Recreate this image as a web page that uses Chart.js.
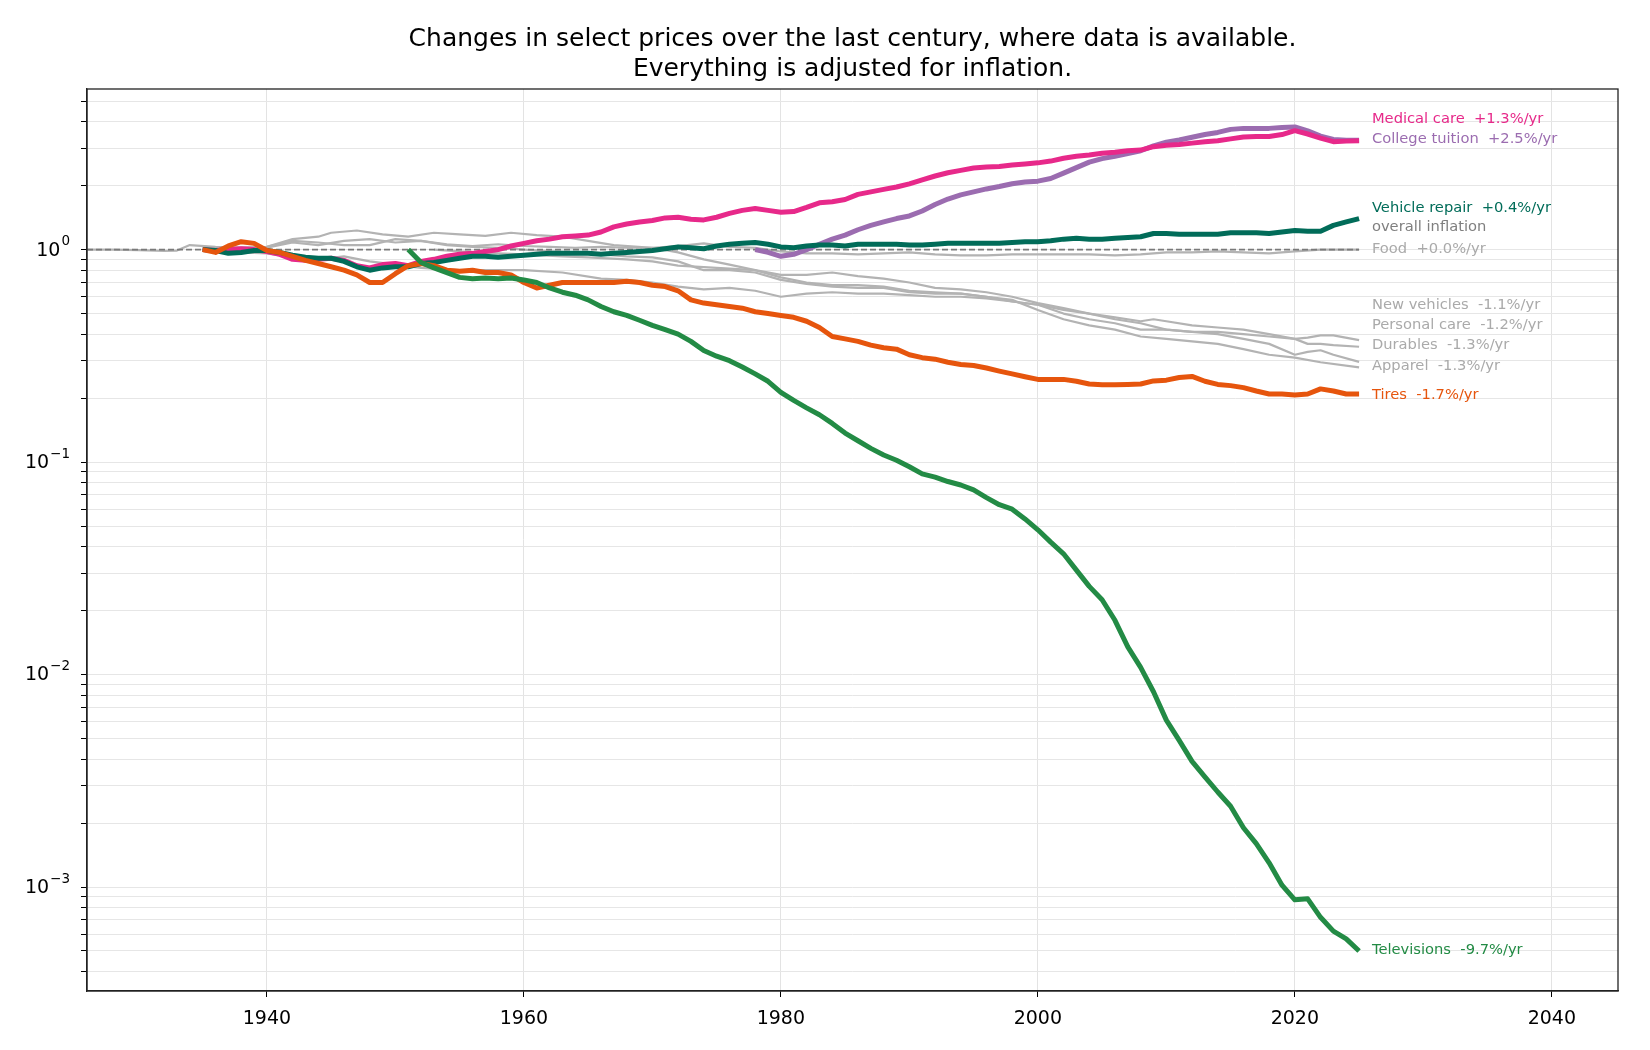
<!DOCTYPE html>
<html>
<head>
<meta charset="utf-8">
<script src="https://cdn.jsdelivr.net/npm/chart.js@4.4.1/dist/chart.umd.min.js"></script>
<style>
  html, body { margin: 0; padding: 0; background: #fff; }
  #wrap { width: 1650px; height: 1050px; }
</style>
</head>
<body>
<div id="wrap"><canvas id="pricesChart" width="1650" height="1050"></canvas></div>
<script>
// Title lines
const titleLines = ['Changes in select prices over the last century, where data is available.',
                    'Everything is adjusted for inflation.'];

// Series, [year, price relative to overall inflation]
const medicalCare = [[1935,1.00],[1936,0.99],[1937,1.00],[1938,1.01],[1939,1.00],[1940,0.98],[1941,0.95],[1942,0.90],[1943,0.89],[1944,0.90],[1945,0.91],[1946,0.89],[1947,0.84],[1948,0.82],[1949,0.85],[1950,0.86],[1951,0.84],[1952,0.88],[1953,0.90],[1954,0.93],[1955,0.95],[1956,0.96],[1957,0.98],[1958,1.00],[1959,1.04],[1960,1.07],[1961,1.10],[1962,1.12],[1963,1.15],[1964,1.16],[1965,1.17],[1966,1.21],[1967,1.28],[1968,1.32],[1969,1.35],[1970,1.37],[1971,1.41],[1972,1.42],[1973,1.39],[1974,1.38],[1975,1.42],[1976,1.48],[1977,1.53],[1978,1.56],[1979,1.53],[1980,1.50],[1981,1.51],[1982,1.58],[1983,1.66],[1984,1.68],[1985,1.72],[1986,1.82],[1987,1.87],[1988,1.92],[1989,1.97],[1990,2.04],[1991,2.13],[1992,2.22],[1993,2.30],[1994,2.36],[1995,2.42],[1996,2.45],[1997,2.46],[1998,2.50],[1999,2.53],[2000,2.56],[2001,2.61],[2002,2.69],[2003,2.75],[2004,2.79],[2005,2.84],[2006,2.87],[2007,2.92],[2008,2.94],[2009,3.05],[2010,3.10],[2011,3.12],[2012,3.17],[2013,3.22],[2014,3.25],[2015,3.32],[2016,3.39],[2017,3.41],[2018,3.41],[2019,3.48],[2020,3.63],[2021,3.50],[2022,3.35],[2023,3.22],[2024,3.24],[2025,3.25]];

const collegeTuition = [[1978,1.00],[1979,0.97],[1980,0.93],[1981,0.95],[1982,1.00],[1983,1.06],[1984,1.12],[1985,1.17],[1986,1.24],[1987,1.30],[1988,1.35],[1989,1.40],[1990,1.44],[1991,1.52],[1992,1.63],[1993,1.73],[1994,1.81],[1995,1.87],[1996,1.93],[1997,1.98],[1998,2.04],[1999,2.08],[2000,2.10],[2001,2.16],[2002,2.29],[2003,2.43],[2004,2.58],[2005,2.68],[2006,2.75],[2007,2.83],[2008,2.92],[2009,3.08],[2010,3.20],[2011,3.28],[2012,3.38],[2013,3.48],[2014,3.56],[2015,3.68],[2016,3.72],[2017,3.72],[2018,3.72],[2019,3.76],[2020,3.78],[2021,3.62],[2022,3.42],[2023,3.30],[2024,3.27],[2025,3.27]];

const vehicleRepair = [[1935,1.00],[1936,0.99],[1937,0.96],[1938,0.97],[1939,0.99],[1940,0.99],[1941,0.97],[1942,0.94],[1943,0.92],[1944,0.91],[1945,0.91],[1946,0.88],[1947,0.83],[1948,0.80],[1949,0.82],[1950,0.83],[1951,0.83],[1952,0.86],[1953,0.87],[1954,0.89],[1955,0.91],[1956,0.93],[1957,0.93],[1958,0.92],[1959,0.93],[1960,0.94],[1961,0.95],[1962,0.96],[1963,0.96],[1964,0.96],[1965,0.96],[1966,0.95],[1967,0.96],[1968,0.97],[1969,0.98],[1970,0.99],[1971,1.01],[1972,1.03],[1973,1.02],[1974,1.01],[1975,1.04],[1976,1.06],[1977,1.07],[1978,1.08],[1979,1.06],[1980,1.03],[1981,1.02],[1982,1.04],[1983,1.05],[1984,1.05],[1985,1.04],[1986,1.06],[1987,1.06],[1988,1.06],[1989,1.06],[1990,1.05],[1991,1.05],[1992,1.06],[1993,1.07],[1994,1.07],[1995,1.07],[1996,1.07],[1997,1.07],[1998,1.08],[1999,1.09],[2000,1.09],[2001,1.10],[2002,1.12],[2003,1.13],[2004,1.12],[2005,1.12],[2006,1.13],[2007,1.14],[2008,1.15],[2009,1.19],[2010,1.19],[2011,1.18],[2012,1.18],[2013,1.18],[2014,1.18],[2015,1.20],[2016,1.20],[2017,1.20],[2018,1.19],[2019,1.21],[2020,1.23],[2021,1.22],[2022,1.22],[2023,1.30],[2024,1.35],[2025,1.40]];

const tires = [[1935,1.00],[1936,0.97],[1937,1.04],[1938,1.09],[1939,1.07],[1940,0.99],[1941,0.97],[1942,0.93],[1943,0.89],[1944,0.86],[1945,0.83],[1946,0.80],[1947,0.76],[1948,0.70],[1949,0.70],[1950,0.77],[1951,0.84],[1952,0.86],[1953,0.84],[1954,0.80],[1955,0.79],[1956,0.80],[1957,0.78],[1958,0.78],[1959,0.76],[1960,0.70],[1961,0.66],[1962,0.68],[1963,0.70],[1964,0.70],[1965,0.70],[1966,0.70],[1967,0.70],[1968,0.71],[1969,0.70],[1970,0.68],[1971,0.67],[1972,0.64],[1973,0.58],[1974,0.56],[1975,0.55],[1976,0.54],[1977,0.53],[1978,0.51],[1979,0.50],[1980,0.49],[1981,0.48],[1982,0.46],[1983,0.43],[1984,0.39],[1985,0.38],[1986,0.37],[1987,0.355],[1988,0.345],[1989,0.34],[1990,0.32],[1991,0.31],[1992,0.305],[1993,0.295],[1994,0.288],[1995,0.285],[1996,0.277],[1997,0.268],[1998,0.26],[1999,0.252],[2000,0.245],[2001,0.245],[2002,0.245],[2003,0.24],[2004,0.233],[2005,0.231],[2006,0.231],[2007,0.232],[2008,0.233],[2009,0.241],[2010,0.243],[2011,0.25],[2012,0.253],[2013,0.24],[2014,0.232],[2015,0.229],[2016,0.224],[2017,0.216],[2018,0.209],[2019,0.209],[2020,0.207],[2021,0.209],[2022,0.221],[2023,0.216],[2024,0.209],[2025,0.209]];

const televisions = [[1951,1.00],[1952,0.87],[1953,0.82],[1954,0.78],[1955,0.74],[1956,0.73],[1957,0.735],[1958,0.73],[1959,0.735],[1960,0.72],[1961,0.70],[1962,0.66],[1963,0.63],[1964,0.61],[1965,0.58],[1966,0.54],[1967,0.51],[1968,0.49],[1969,0.465],[1970,0.44],[1971,0.42],[1972,0.40],[1973,0.37],[1974,0.335],[1975,0.315],[1976,0.30],[1977,0.28],[1978,0.26],[1979,0.24],[1980,0.213],[1981,0.195],[1982,0.18],[1983,0.167],[1984,0.152],[1985,0.137],[1986,0.126],[1987,0.116],[1988,0.108],[1989,0.102],[1990,0.095],[1991,0.088],[1992,0.085],[1993,0.081],[1994,0.078],[1995,0.074],[1996,0.068],[1997,0.063],[1998,0.060],[1999,0.054],[2000,0.048],[2001,0.042],[2002,0.037],[2003,0.031],[2004,0.026],[2005,0.0225],[2006,0.018],[2007,0.0135],[2008,0.0108],[2009,0.0083],[2010,0.0061],[2011,0.0049],[2012,0.0039],[2013,0.0033],[2014,0.0028],[2015,0.0024],[2016,0.0019],[2017,0.0016],[2018,0.0013],[2019,0.00102],[2020,0.00087],[2021,0.00088],[2022,0.00072],[2023,0.00062],[2024,0.00057],[2025,0.00050]];

const food = [[1926,1.00],[1928,1.00],[1930,0.995],[1932,0.985],[1933,0.99],[1934,1.05],[1936,1.03],[1938,1.02],[1940,1.02],[1942,1.08],[1944,1.05],[1946,1.10],[1948,1.12],[1950,1.08],[1952,1.10],[1954,1.06],[1956,1.04],[1958,1.06],[1960,1.04],[1962,1.03],[1964,1.02],[1966,1.03],[1968,1.02],[1970,1.02],[1972,1.04],[1974,1.07],[1976,1.03],[1978,1.02],[1980,0.98],[1982,0.96],[1984,0.96],[1986,0.95],[1988,0.96],[1990,0.97],[1992,0.95],[1994,0.94],[1996,0.94],[1998,0.95],[2000,0.95],[2002,0.95],[2004,0.95],[2006,0.94],[2008,0.95],[2010,0.97],[2012,0.97],[2014,0.98],[2016,0.97],[2018,0.96],[2020,0.98],[2022,1.00],[2024,1.00],[2025,1.00]];

const newVehicles = [[1953,1.00],[1955,0.98],[1958,0.96],[1960,0.95],[1963,0.93],[1965,0.92],[1968,0.90],[1970,0.88],[1972,0.84],[1975,0.82],[1978,0.80],[1980,0.76],[1982,0.76],[1984,0.78],[1986,0.75],[1988,0.73],[1990,0.70],[1992,0.66],[1994,0.65],[1996,0.63],[1998,0.60],[2000,0.56],[2002,0.53],[2004,0.50],[2006,0.48],[2008,0.46],[2009,0.47],[2010,0.46],[2012,0.44],[2014,0.43],[2016,0.42],[2018,0.40],[2020,0.38],[2021,0.385],[2022,0.395],[2023,0.395],[2025,0.375]];

const personalCare = [[1935,1.00],[1938,0.97],[1940,0.96],[1942,0.92],[1944,0.90],[1946,0.93],[1948,0.88],[1950,0.85],[1952,0.82],[1955,0.80],[1958,0.80],[1960,0.80],[1963,0.78],[1966,0.73],[1968,0.72],[1970,0.70],[1972,0.67],[1974,0.65],[1976,0.66],[1978,0.64],[1980,0.60],[1982,0.62],[1984,0.63],[1986,0.62],[1988,0.62],[1990,0.61],[1992,0.60],[1994,0.60],[1996,0.59],[1998,0.57],[2000,0.55],[2002,0.50],[2004,0.47],[2006,0.45],[2008,0.42],[2010,0.42],[2012,0.41],[2014,0.41],[2016,0.40],[2018,0.39],[2020,0.38],[2021,0.36],[2022,0.36],[2023,0.355],[2025,0.349]];

const durables = [[1935,1.00],[1938,1.00],[1940,1.03],[1942,1.10],[1944,1.08],[1946,1.05],[1948,1.05],[1950,1.12],[1952,1.10],[1954,1.05],[1956,1.03],[1958,1.02],[1960,1.00],[1962,0.98],[1964,0.97],[1966,0.95],[1968,0.93],[1970,0.92],[1972,0.88],[1974,0.80],[1976,0.80],[1978,0.78],[1980,0.72],[1982,0.69],[1984,0.67],[1986,0.66],[1988,0.66],[1990,0.63],[1992,0.62],[1994,0.62],[1996,0.60],[1998,0.57],[2000,0.55],[2002,0.52],[2004,0.50],[2006,0.47],[2008,0.45],[2010,0.42],[2012,0.41],[2014,0.40],[2016,0.38],[2018,0.36],[2020,0.32],[2021,0.33],[2022,0.336],[2023,0.32],[2025,0.296]];

const apparel = [[1935,1.00],[1937,1.02],[1940,1.03],[1942,1.12],[1944,1.15],[1945,1.20],[1947,1.23],[1949,1.18],[1951,1.15],[1953,1.20],[1955,1.18],[1957,1.16],[1959,1.20],[1961,1.17],[1963,1.15],[1965,1.10],[1967,1.05],[1970,1.02],[1972,0.97],[1974,0.90],[1976,0.85],[1978,0.80],[1980,0.74],[1982,0.70],[1984,0.68],[1986,0.68],[1988,0.67],[1990,0.64],[1992,0.63],[1994,0.62],[1996,0.60],[1998,0.58],[2000,0.52],[2002,0.47],[2004,0.44],[2006,0.42],[2008,0.39],[2010,0.38],[2012,0.37],[2014,0.36],[2016,0.34],[2018,0.32],[2020,0.31],[2022,0.295],[2025,0.279]];

const overallInflation = [[1926,1],[2025,1]];

// Right-hand labels
const labelTexts = ['Medical care  +1.3%/yr', 'College tuition  +2.5%/yr', 'Vehicle repair  +0.4%/yr',
                    'overall inflation', 'Food  +0.0%/yr', 'New vehicles  -1.1%/yr', 'Personal care  -1.2%/yr',
                    'Durables  -1.3%/yr', 'Apparel  -1.3%/yr', 'Tires  -1.7%/yr', 'Televisions  -9.7%/yr'];
const labelValues = [4.11, 3.31, 1.56, 1.27, 1.0, 0.547, 0.44, 0.355, 0.282, 0.207, 0.000505];
const labelColors = ['#e7298a', '#9b6cb0', '#016c59', '#7f7f7f', '#aaaaaa', '#aaaaaa', '#aaaaaa',
                     '#aaaaaa', '#aaaaaa', '#e6550d', '#238b45'];
const labelYear = 2026;

const xTicks = [1940, 1960, 1980, 2000, 2020, 2040];
const yDecades = [-3, -2, -1, 0];

const FONT = "'DejaVu Sans', sans-serif";

function toPoints(series) {
    return series.map(p => ({ x: p[0], y: p[1] }));
}

function grayLine(series) {
    return { data: toPoints(series), borderColor: '#b3b3b3', borderWidth: 2.2, order: 5 };
}

function boldLine(series, color, order) {
    return { data: toPoints(series), borderColor: color, borderWidth: 5, order: order };
}

// Frame, title, power-of-ten labels and end labels
const decorations = {
    id: 'decorations',
    afterDatasetsDraw(chart) {
        const ctx = chart.ctx;
        const { x, y } = chart.scales;
        ctx.save();
        ctx.font = '14.7px ' + FONT;
        ctx.textAlign = 'left';
        ctx.textBaseline = 'middle';
        labelTexts.forEach((t, i) => {
            ctx.fillStyle = labelColors[i];
            ctx.fillText(t, x.getPixelForValue(labelYear), y.getPixelForValue(labelValues[i]));
        });
        ctx.restore();
    },
    afterDraw(chart) {
        const ctx = chart.ctx;
        const a = chart.chartArea;
        const yScale = chart.scales.y;
        ctx.save();
        ctx.strokeStyle = '#222';
        ctx.lineWidth = 1.3;
        ctx.strokeRect(a.left, a.top, a.right - a.left, a.bottom - a.top);

        ctx.fillStyle = '#000';
        ctx.font = '25px ' + FONT;
        ctx.textAlign = 'center';
        ctx.textBaseline = 'middle';
        const cx = (a.left + a.right) / 2;
        ctx.fillText(titleLines[0], cx, 39);
        ctx.fillText(titleLines[1], cx, 69);

        // y labels as 10 with a raised exponent
        const right = a.left - 17;
        yDecades.forEach(k => {
            const py = yScale.getPixelForValue(Math.pow(10, k));
            const expText = k < 0 ? '\u2212' + (-k) : String(k);
            ctx.textAlign = 'right';
            ctx.textBaseline = 'middle';
            ctx.font = '13.5px ' + FONT;
            const ew = ctx.measureText(expText).width;
            ctx.fillText(expText, right, py - 8);
            ctx.font = '19px ' + FONT;
            ctx.fillText('10', right - ew - 1, py + 1);
        });
        ctx.restore();
    }
};

new Chart(document.getElementById('pricesChart').getContext('2d'), {
    type: 'line',
    data: {
        datasets: [
            grayLine(food), grayLine(newVehicles), grayLine(personalCare), grayLine(durables), grayLine(apparel),
            { data: toPoints(overallInflation), borderColor: '#7a7a7a', borderWidth: 1.6, borderDash: [6, 3], order: 4 },
            boldLine(collegeTuition, '#9b6cb0', 3),
            boldLine(medicalCare, '#e7298a', 2.5),
            boldLine(vehicleRepair, '#016c59', 2),
            boldLine(tires, '#e6550d', 1),
            boldLine(televisions, '#238b45', 0)
        ]
    },
    options: {
        responsive: false,
        animation: false,
        devicePixelRatio: 1,
        layout: { padding: { top: 89, right: 32, left: 0, bottom: 0 } },
        elements: { point: { radius: 0 }, line: { tension: 0, borderCapStyle: 'butt', borderJoinStyle: 'round' } },
        plugins: { legend: { display: false }, tooltip: { enabled: false }, title: { display: false } },
        scales: {
            x: {
                type: 'linear',
                bounds: 'data',
                min: 1926,
                max: 2045.15,
                afterBuildTicks: (scale) => { scale.ticks = xTicks.map(v => ({ value: v })); },
                afterFit: (scale) => { scale.height = 59; },
                grid: { color: '#e3e3e3', lineWidth: 1, tickColor: '#000', tickLength: 6 },
                border: { display: true, color: '#222', width: 1.3 },
                ticks: { color: '#000', font: { family: FONT, size: 19 }, padding: 11, maxRotation: 0,
                         callback: (v) => String(v) }
            },
            y: {
                type: 'logarithmic',
                bounds: 'data',
                min: 3.24e-4,
                max: 5.70,
                afterBuildTicks: (scale) => {
                    const t = [];
                    for (let k = -4; k <= 0; k++) {
                        for (let m = 1; m <= 9; m++) {
                            const v = m * Math.pow(10, k);
                            if (v >= 3.24e-4 && v <= 5.70) t.push({ value: v, major: m === 1 });
                        }
                    }
                    scale.ticks = t;
                },
                afterFit: (scale) => { scale.width = 87; },
                grid: { color: '#e6e6e6', lineWidth: 1, tickColor: '#000', tickLength: 6 },
                border: { display: true, color: '#222', width: 1.3 },
                ticks: { display: true, autoSkip: false, font: { family: FONT, size: 19 }, callback: () => '' }
            }
        }
    },
    plugins: [decorations]
});
</script>
</body>
</html>
